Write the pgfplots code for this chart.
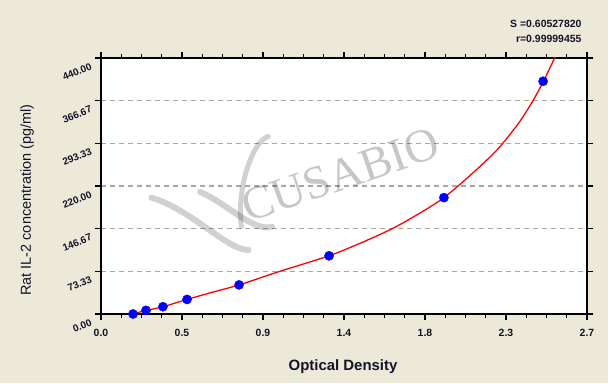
\documentclass[border=0pt]{standalone}
\usepackage{pgfplots}
\pgfplotsset{compat=1.18}
\usepackage{fontspec}
\setmainfont{Liberation Sans}
\newfontfamily\serifwm{Liberation Serif}
\definecolor{bg}{RGB}{236,233,216}
\definecolor{gridc}{RGB}{172,168,152}
\definecolor{ptblue}{RGB}{0,0,255}
\definecolor{txt}{RGB}{20,20,40}
\begin{document}
\begin{tikzpicture}[x=1bp,y=1bp]
\fill[bg] (0,0) rectangle (608,383);
\begin{axis}[at={(101bp,69bp)}, anchor=south west, scale only axis,
  width=486bp, height=256bp,
  xmin=0, xmax=2.7, ymin=0, ymax=440,
  axis background/.style={fill=white},
  axis line style={line width=1.6bp, black},
  xtick={0,0.45,0.9,1.35,1.8,2.25,2.7},
  xticklabels={0.0,0.5,0.9,1.4,1.8,2.3,2.7},
  ytick={0,73.333,146.667,220,293.333,366.667,440},
  yticklabels={0.00,73.33,146.67,220.00,293.33,366.67,440.00},
  minor x tick num=3, minor y tick num=4,
  tick align=outside, major tick length=6bp, minor tick length=4bp,
  tick style={black, line width=1.1bp},
  ymajorgrids, grid style={gridc, line width=1.4bp, dash pattern=on 5bp off 4bp},
  xticklabel style={font=\fontsize{10.5}{12}\selectfont\bfseries, text=txt, yshift=-6bp},
  yticklabel style={font=\fontsize{10}{12}\selectfont\bfseries, text=txt, rotate=22, anchor=north east, xshift=-3bp, yshift=1bp},
  xlabel={Optical Density},
  xlabel style={font=\fontsize{15}{18}\selectfont\bfseries, text=txt, at={(axis description cs:0.498,-0.206)}, anchor=center},
  ylabel={Rat IL-2 concentration (pg/ml)},
  ylabel style={font=\fontsize{14.5}{17}\selectfont, text=txt, at={(axis description cs:-0.152,0.445)}, anchor=center, rotate=0},
  clip=true,
]
\node[rotate=19, text=black, opacity=0.22, font=\serifwm\fontsize{47}{47}\selectfont] at (axis cs:1.33,239) {CUSABIO};
\draw[black, opacity=0.18, line width=6bp, line cap=round] (axis cs:0.28,200) .. controls (axis cs:0.5,180) and (axis cs:0.7,110) .. (axis cs:0.82,110);
\draw[black, opacity=0.18, line width=6bp, line cap=round] (axis cs:0.55,210) .. controls (axis cs:0.7,190) and (axis cs:0.85,140) .. (axis cs:0.95,150);
\draw[black, opacity=0.18, line width=5bp, line cap=round] (axis cs:0.78,150) .. controls (axis cs:0.75,220) and (axis cs:0.85,300) .. (axis cs:0.93,305);
\addplot[red, line width=1.3bp, smooth] coordinates {
 (0.16,-1) (0.25,6) (0.344,12.5) (0.478,25) (0.62,37.5) (0.767,50) (1.0,74)
 (1.267,100) (1.45,123) (1.62,147) (1.78,175) (1.905,200) (2.05,238)
 (2.2,282) (2.32,328) (2.40,366.7) (2.456,399) (2.52,440) (2.56,468)
};
\addplot[only marks, mark=*, mark size=4.6bp, ptblue, mark options={fill=ptblue, draw=ptblue}] coordinates {
 (0.178,0) (0.25,6.25) (0.344,12.5) (0.478,25) (0.767,50) (1.267,100) (1.905,200) (2.456,400)
};
\end{axis}
\node[anchor=base east, font=\fontsize{10.5}{12}\selectfont\bfseries, text=txt] at (585,356) {S =0.60527820};
\node[anchor=base east, font=\fontsize{10.5}{12}\selectfont\bfseries, text=txt] at (585,341) {r=0.99999455};
\end{tikzpicture}
\end{document}
